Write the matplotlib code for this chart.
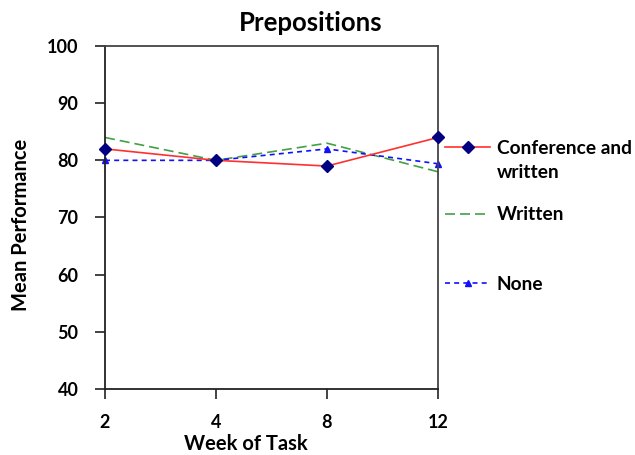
import matplotlib
matplotlib.use("Agg")
import matplotlib.pyplot as plt

weeks = ["2", "4", "8", "12"]
conference_written = [82, 80, 79, 84]
written = [84, 80, 83, 78]
none = [80, 80, 82, 79.4]
y_ticks = [40, 50, 60, 70, 80, 90, 100]

plt.rcParams["font.family"] = ["Lato", "DejaVu Sans"]
plt.rcParams["font.weight"] = "bold"

W, H = 635, 455
fig = plt.figure(figsize=(W / 100, H / 100), dpi=100)
ax = fig.add_axes([105 / W, 1 - 389 / H, (438 - 105) / W, (389 - 46) / H])

x = list(range(len(weeks)))
l1, = ax.plot(x, conference_written, color="#ff3030", lw=1.2, marker="D",
              markersize=6.5, markerfacecolor="#000080", markeredgecolor="#000080",
              clip_on=False, zorder=3)
l2, = ax.plot(x, written, color="#44a044", lw=1.2, ls=(0, (6, 3)),
              clip_on=False, zorder=2)
l3, = ax.plot(x, none, color="#1010ff", lw=1.2, ls=(0, (3, 2.5)), marker="^",
              markersize=5, markerfacecolor="#1010ff", markeredgecolor="#1010ff",
              clip_on=False, zorder=2)

ax.set_xlim(0, len(weeks) - 1)
ax.set_ylim(40, 100)
ax.set_xticks(x)
ax.set_xticklabels(weeks)
ax.set_yticks(y_ticks)
ax.tick_params(axis="both", direction="out", length=7, width=1.2, labelsize=13,
               color="#222222")
ax.tick_params(axis="x", pad=11)
ax.tick_params(axis="y", pad=12)
for lab in ax.get_xticklabels() + ax.get_yticklabels():
    lab.set_fontweight("bold")

for side in ["left", "bottom"]:
    ax.spines[side].set_color("#222222")
    ax.spines[side].set_linewidth(1.3)
for side in ["top", "right"]:
    ax.spines[side].set_color("#444444")
    ax.spines[side].set_linewidth(1.3)

ax.set_xlabel("Week of Task", fontsize=14.5, fontweight="bold", va="center")
ax.xaxis.set_label_coords((246 - 105) / 333, -(444 - 389) / 343)
ax.set_ylabel("Mean Performance", fontsize=14.5, fontweight="bold", va="center")
ax.yaxis.set_label_coords(-(105 - 21) / 333, (389 - 225) / 343)

fig.text(311 / W, 1 - 23 / H, "Prepositions", ha="center", va="center",
         fontsize=18.5, fontweight="bold")

legend_fs = 13.8
entries = [
    (l1, "Conference and", 148),
    (l2, "Written", 215),
    (l3, "None", 284),
]
for handle, label, yc in entries:
    leg = fig.legend([handle], [label], loc="center left",
                     bbox_to_anchor=(445 / W, 1 - yc / H),
                     frameon=False, fontsize=legend_fs, handlelength=2.35,
                     handletextpad=0.36, borderaxespad=0, borderpad=0)
    for t in leg.get_texts():
        t.set_fontweight("bold")
fig.text(497 / W, 1 - 172 / H, "written", ha="left", va="center",
         fontsize=legend_fs, fontweight="bold")

fig.savefig("out.png", dpi=100)
